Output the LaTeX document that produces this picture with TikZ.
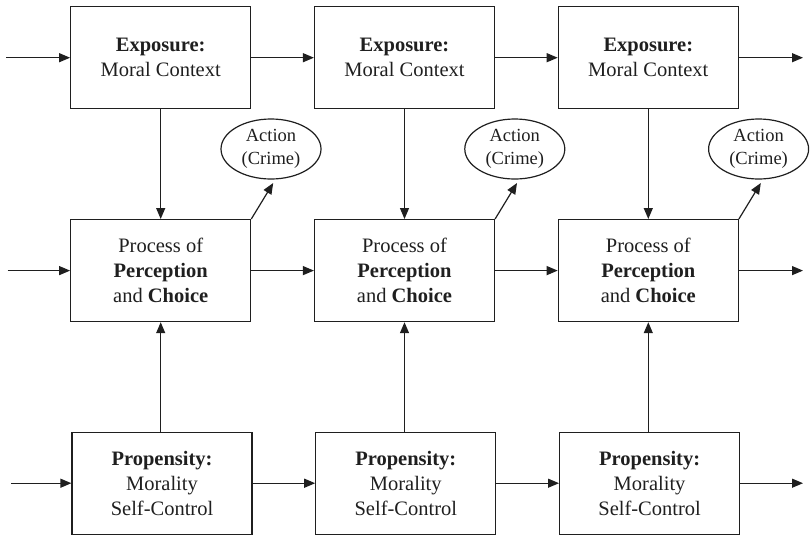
\documentclass[tikz,border=0pt]{standalone}
\usepackage{fontspec}
\setmainfont{Liberation Serif}
\usetikzlibrary{arrows.meta,calc,shapes.geometric}
\begin{document}
\begin{tikzpicture}[x=1pt,y=-1pt,
  ink/.style={draw=black!88, line width=1.2pt},
  box/.style={ink, rectangle, minimum width=180pt, minimum height=102pt,
    inner sep=0pt, align=center, text=black!88,
    font=\fontsize{20.5}{25}\selectfont},
  act/.style={ink, ellipse, minimum width=100pt, minimum height=60pt,
    inner sep=0pt, align=center, text=black!88,
    font=\fontsize{18.5}{22.5}\selectfont},
  link/.style={ink, -{Triangle[length=11pt,width=9pt]}}]
\useasboundingbox (0,0) rectangle (810,536);

% three time steps, one column each
\foreach \i/\x in {1/160.7,2/404.5,3/648.3} {
  \node[box] (e\i) at (\x,57.7) {\textbf{Exposure:}\\Moral Context};
  \node[box] (p\i) at (\x,270.6) {Process of\\\textbf{Perception}\\and \textbf{Choice}};
  \node[box] (s\i) at (\x+1.3,483.2) {\textbf{Propensity:}\\Morality\\Self-Control};
  \node[act] (a\i) at (\x+110.3,149) {Action\\(Crime)};
  \coordinate (t\i) at (\x+112.5,183);
}

% free ends of the incoming and outgoing arrows
\coordinate (ine) at (6,57.7);
\coordinate (inp) at (7.5,270.6);
\coordinate (ins) at (11,483.2);
\coordinate (oute) at (803,57.7);
\coordinate (outp) at (803,270.6);
\coordinate (outs) at (803,483.2);

% rows
\draw[link] (ine) -- (e1.west);
\draw[link] (inp) -- (p1.west);
\draw[link] (ins) -- (s1.west);
\draw[link] (e1.east) -- (e2.west);
\draw[link] (e2.east) -- (e3.west);
\draw[link] (e3.east) -- (oute);
\draw[link] (p1.east) -- (p2.west);
\draw[link] (p2.east) -- (p3.west);
\draw[link] (p3.east) -- (outp);
\draw[link] (s1.east) -- (s2.west);
\draw[link] (s2.east) -- (s3.west);
\draw[link] (s3.east) -- (outs);

% columns and action outputs
\foreach \i in {1,2,3} {
  \draw[link] (e\i.south) -- (p\i.north);
  \draw[link] (s\i.north -| p\i) -- (p\i.south);
  \draw[link] (p\i.north east) -- (t\i);
}
\end{tikzpicture}
\end{document}
